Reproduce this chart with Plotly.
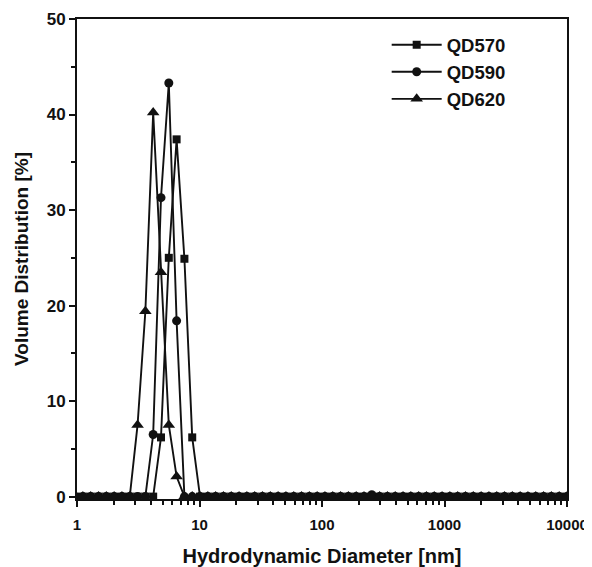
import plotly.graph_objects as go

# Size bins (nm)
diameter = [0.4, 0.4632, 0.5365, 0.6213, 0.7195, 0.8332, 0.9649, 1.117, 1.294, 1.499,
            1.736, 2.01, 2.328, 2.696, 3.122, 3.615, 4.187, 4.849, 5.615, 6.503,
            7.531, 8.721, 10.1, 11.7, 13.54, 15.69, 18.17, 21.04, 24.36, 28.21,
            32.67, 37.84, 43.82, 50.75, 58.77, 68.06, 78.82, 91.28, 105.7, 122.4,
            141.8, 164.2, 190.1, 220.2, 255.0, 295.3, 342.0, 396.1, 458.7, 531.2,
            615.1, 712.4, 825.0, 955.4, 1106, 1281, 1484, 1718, 1990, 2305,
            2669, 3091, 3580, 4145, 4801, 5560, 6439, 7456, 8635, 10000]

n = len(diameter)
idx = {d: i for i, d in enumerate(diameter)}

qd570_peak = {4.849: 6.2, 5.615: 25.0, 6.503: 37.4, 7.531: 24.9, 8.721: 6.2}
qd590_peak = {4.187: 6.5, 4.849: 31.3, 5.615: 43.3, 6.503: 18.4, 255.0: 0.2}
qd620_peak = {3.122: 7.5, 3.615: 19.4, 4.187: 40.2, 4.849: 23.5, 5.615: 7.5, 6.503: 2.1}

def series(peaks):
    vals = [0.0] * n
    for d, v in peaks.items():
        vals[idx[d]] = v
    return vals

qd570 = series(qd570_peak)
qd590 = series(qd590_peak)
qd620 = series(qd620_peak)

names = ["QD570", "QD590", "QD620"]
symbols = ["square", "circle", "triangle-up"]
sizes = [8, 9, 11]

fig = go.Figure()
for name, vals, sym, sz in zip(names, [qd570, qd590, qd620], symbols, sizes):
    fig.add_trace(go.Scatter(
        x=diameter, y=vals, mode="lines+markers", name=name,
        line=dict(color="#111111", width=1.9),
        marker=dict(symbol=sym, size=sz, color="#111111"),
        cliponaxis=True,
    ))

font_family = "Liberation Sans, Arial, sans-serif"
# page body has an 8px margin; size the figure to fit inside the window
fig.update_layout(
    width=584, height=559,
    margin=dict(l=69, r=25, t=11, b=68),
    paper_bgcolor="white", plot_bgcolor="white",
    font=dict(family=font_family, color="#111111"),
    showlegend=True,
    legend=dict(x=0.632, y=0.985, xanchor="left", yanchor="top",
                font=dict(size=18.5, family=font_family, weight="bold"),
                bgcolor="rgba(0,0,0,0)", tracegroupgap=0, itemwidth=50),
    xaxis=dict(
        type="log", range=[0, 4], automargin=False,
        tickvals=[1, 10, 100, 1000, 10000],
        ticktext=["1", "10", "100", "1000", "10000"],
        ticks="outside", ticklen=6, tickwidth=2, tickcolor="#111111",
        ticklabelstandoff=5, ticklabeloverflow="allow",
        minor=dict(ticks="outside", ticklen=4, tickwidth=1.5, tickcolor="#111111",
                   tickvals=[a * b for b in [1, 10, 100, 1000] for a in range(2, 10)]),
        showline=True, linewidth=2, linecolor="#111111", mirror=True,
        showgrid=False, zeroline=False,
        tickfont=dict(size=15, family=font_family, weight="bold"),
        title=dict(text="Hydrodynamic Diameter [nm]",
                   font=dict(size=20, family=font_family, weight="bold"), standoff=19),
    ),
    yaxis=dict(
        range=[-0.25, 50], automargin=False,
        tickvals=[0, 10, 20, 30, 40, 50],
        ticks="outside", ticklen=6, tickwidth=2, tickcolor="#111111",
        minor=dict(ticks="outside", ticklen=4, tickwidth=1.5, tickcolor="#111111",
                   tickvals=[5, 15, 25, 35, 45]),
        showline=True, linewidth=2, linecolor="#111111", mirror=True,
        showgrid=False, zeroline=False,
        tickfont=dict(size=17, family=font_family, weight="bold"),
        title=dict(text="Volume Distribution [%]",
                   font=dict(size=19, family=font_family, weight="bold"), standoff=13),
    ),
)

fig.write_html("out.html")
